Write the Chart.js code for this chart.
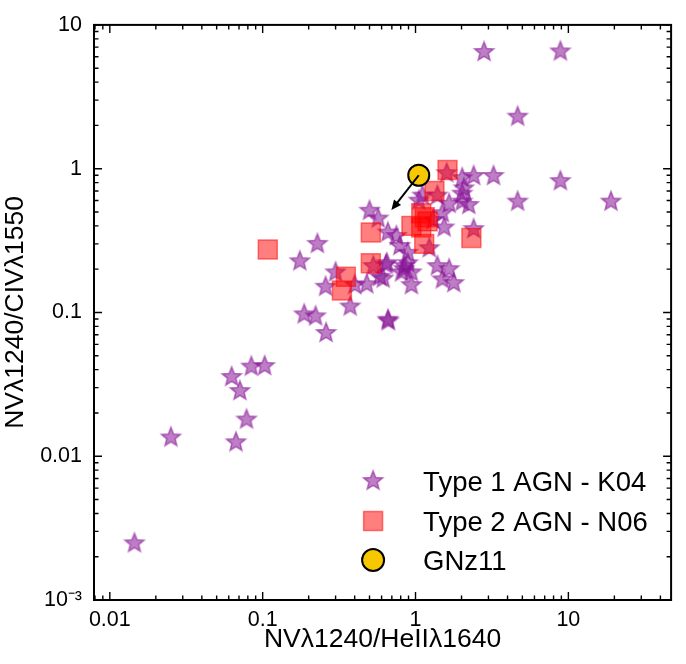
<!DOCTYPE html>
<html><head><meta charset="utf-8">
<script src="https://cdn.jsdelivr.net/npm/chart.js@4.4.0/dist/chart.umd.min.js"></script>
<style>html,body{margin:0;padding:0;background:#fff;}</style>
</head><body>
<canvas id="c" width="686" height="664"></canvas>
<script>
// ---------------- data ----------------
const seriesNames = ['Type 1 AGN - K04', 'Type 2 AGN - N06', 'GNz11'];
const axisTitles = ['NVλ1240/HeIIλ1640', 'NVλ1240/CIVλ1550'];

const xType1 = [2.81, 8.87, 4.66, 8.87, 4.66, 19.0, 1.60, 2.02, 2.40, 3.24,
                2.07, 2.02, 2.23, 2.02, 1.66, 1.39, 1.11, 1.50, 1.54, 2.40,
                0.50, 0.57, 0.66, 0.75, 0.79, 0.89, 1.23, 0.65, 0.85, 0.81,
                0.89, 0.94, 1.39, 1.66, 1.50, 1.78, 0.94, 0.585, 0.48, 0.53,
                0.615, 0.40, 0.30, 0.258, 0.374, 0.228, 0.175, 0.187, 0.222, 0.26,
                0.66, 0.665, 0.0251, 0.0145, 0.0627, 0.071, 0.0843, 0.103, 0.0784, 0.0669,
                1.30, 1.05, 0.64, 0.84];
const yType1 = [6.48, 6.54, 2.30, 0.82, 0.59, 0.59, 0.93, 0.86, 0.89, 0.89,
                0.73, 0.67, 0.56, 0.59, 0.57, 0.65, 0.65, 0.49, 0.39, 0.38,
                0.51, 0.45, 0.36, 0.34, 0.29, 0.26, 0.28, 0.22, 0.21, 0.19,
                0.22, 0.19, 0.21, 0.20, 0.17, 0.16, 0.155, 0.177, 0.157, 0.21,
                0.172, 0.155, 0.19, 0.151, 0.110, 0.30, 0.227, 0.097, 0.094, 0.072,
                0.089, 0.087, 0.0135, 0.00248, 0.0356, 0.0284, 0.042, 0.0424, 0.018, 0.0125,
                0.44, 0.60, 0.215, 0.20];

const xType2 = [1.62, 1.33, 1.09, 1.20, 0.94, 1.09, 1.14, 2.32, 0.51, 0.51, 0.35, 0.33, 0.108, 1.15];
const yType2 = [0.98, 0.70, 0.49, 0.43, 0.40, 0.39, 0.30, 0.33, 0.36, 0.22, 0.177, 0.142, 0.274, 0.46];

const xGNz11 = [1.05];
const yGNz11 = [0.90];
const arrowEnd = [0.695, 0.515];   // upper-limit arrow tip (x, y)

const xRange = [0.00788, 47];
const yRange = [0.001, 10];
const xTickValues = [0.01, 0.1, 1, 10];
const xTickLabels = ['0.01', '0.1', '1', '10'];
const yTickValues = [0.001, 0.01, 0.1, 1, 10];
const yTickLabels = ['10⁻³', '0.01', '0.1', '1', '10'];

// ---------------- styling helpers ----------------
const FONT = "'Liberation Sans', Arial, Helvetica, sans-serif";
function makeStar(R, ratio, fill, stroke, lw) {
  const s = Math.ceil(2 * R + lw * 2 + 4);
  const c = document.createElement('canvas');
  c.width = s; c.height = s;
  const g = c.getContext('2d');
  g.translate(s / 2, s / 2);
  g.beginPath();
  for (let i = 0; i < 10; i++) {
    const r = (i % 2) ? R * ratio : R;
    const a = -Math.PI / 2 + i * Math.PI / 5;
    g.lineTo(r * Math.cos(a), r * Math.sin(a));
  }
  g.closePath();
  g.fillStyle = fill; g.fill();
  g.lineWidth = lw; g.strokeStyle = stroke; g.lineJoin = 'miter'; g.stroke();
  return c;
}
const starImg = makeStar(10, 0.44, 'rgba(135,20,150,0.55)', 'rgba(135,20,150,0.55)', 1.6);
const sqFill = 'rgba(255,0,0,0.5)';
const sqEdge = 'rgba(255,0,0,0.5)';
const sqRadius = 13.4;
const gold = '#f7c800';
const circR = 10.5;

function pts(xs, ys) { return xs.map((x, i) => ({x: x, y: ys[i]})); }

function tickSet(range) {
  const out = [];
  for (let e = -4; e <= 2; e++) {
    for (let m = 1; m <= 9; m++) {
      const v = +(m * Math.pow(10, e)).toPrecision(6);
      if (v >= range[0] && v <= range[1]) out.push({v: v, major: m === 1});
    }
  }
  return out;
}

const decor = {
  id: 'decor',
  afterDatasetsDraw(chart) {
    const {ctx} = chart;
    const xs = chart.scales.x, ys = chart.scales.y;
    // arrow
    const x0 = xs.getPixelForValue(xGNz11[0]), y0 = ys.getPixelForValue(yGNz11[0]);
    const x1 = xs.getPixelForValue(arrowEnd[0]), y1 = ys.getPixelForValue(arrowEnd[1]);
    const ang = Math.atan2(y1 - y0, x1 - x0);
    const hl = 10, hw = 4.5;
    ctx.save();
    ctx.strokeStyle = '#000'; ctx.fillStyle = '#000'; ctx.lineWidth = 2;
    ctx.beginPath(); ctx.moveTo(x0, y0);
    ctx.lineTo(x1 - Math.cos(ang) * hl * 0.8, y1 - Math.sin(ang) * hl * 0.8); ctx.stroke();
    ctx.beginPath();
    ctx.moveTo(x1, y1);
    ctx.lineTo(x1 - Math.cos(ang) * hl - Math.sin(ang) * hw, y1 - Math.sin(ang) * hl + Math.cos(ang) * hw);
    ctx.lineTo(x1 - Math.cos(ang) * hl + Math.sin(ang) * hw, y1 - Math.sin(ang) * hl - Math.cos(ang) * hw);
    ctx.closePath(); ctx.fill();
    ctx.restore();
  },
  afterDraw(chart) {
    const {ctx, chartArea: a} = chart;
    const xs = chart.scales.x, ys = chart.scales.y;
    ctx.save();
    ctx.strokeStyle = '#000';
    ctx.lineWidth = 1.4;
    ctx.beginPath();
    tickSet(xRange).forEach(t => {
      const p = xs.getPixelForValue(t.v);
      const L = t.major ? 8 : 4.5;
      ctx.moveTo(p, a.bottom); ctx.lineTo(p, a.bottom - L);
      ctx.moveTo(p, a.top); ctx.lineTo(p, a.top + L);
    });
    tickSet(yRange).forEach(t => {
      const p = ys.getPixelForValue(t.v);
      const L = t.major ? 8 : 4.5;
      ctx.moveTo(a.left, p); ctx.lineTo(a.left + L, p);
      ctx.moveTo(a.right, p); ctx.lineTo(a.right - L, p);
    });
    ctx.stroke();
    ctx.lineWidth = 2;
    ctx.strokeRect(a.left, a.top, a.right - a.left, a.bottom - a.top);

    // legend
    const mx = a.right - 298, tx = a.right - 248;
    const rows = [a.bottom - 119, a.bottom - 79, a.bottom - 40];
    ctx.drawImage(starImg, mx - starImg.width / 2, rows[0] - starImg.height / 2);
    const half = sqRadius * Math.SQRT1_2;
    ctx.fillStyle = sqFill; ctx.strokeStyle = sqEdge; ctx.lineWidth = 1.5;
    ctx.beginPath(); ctx.rect(mx - half, rows[1] - half, 2 * half, 2 * half); ctx.fill(); ctx.stroke();
    ctx.fillStyle = gold; ctx.strokeStyle = '#000'; ctx.lineWidth = 2;
    ctx.beginPath(); ctx.arc(mx, rows[2], circR + 0.5, 0, Math.PI * 2); ctx.fill(); ctx.stroke();
    ctx.fillStyle = '#000';
    ctx.font = '27.5px ' + FONT;
    ctx.textAlign = 'left'; ctx.textBaseline = 'alphabetic';
    seriesNames.forEach((n, i) => ctx.fillText(n, tx, rows[i] + 9.5));
    ctx.restore();
  }
};

new Chart(document.getElementById('c'), {
  type: 'scatter',
  data: {
    datasets: [
      {label: seriesNames[0], data: pts(xType1, yType1), pointStyle: starImg, pointRadius: 10, pointHoverRadius: 10, order: 3},
      {label: seriesNames[1], data: pts(xType2, yType2), pointStyle: 'rect', pointRadius: sqRadius, pointHoverRadius: sqRadius,
       backgroundColor: sqFill, borderColor: sqEdge, borderWidth: 1.5, pointBorderWidth: 1.5, order: 2},
      {label: seriesNames[2], data: pts(xGNz11, yGNz11), pointStyle: 'circle', pointRadius: circR, pointHoverRadius: circR,
       backgroundColor: gold, borderColor: '#000', borderWidth: 2, pointBorderWidth: 2, order: 1}
    ]
  },
  options: {
    responsive: false,
    animation: false,
    devicePixelRatio: 1,
    layout: {padding: {top: 12, right: 8, left: 0, bottom: 0}},
    plugins: {legend: {display: false}, tooltip: {enabled: false}},
    events: [],
    scales: {
      x: {
        type: 'logarithmic', min: xRange[0], max: xRange[1],
        afterBuildTicks: s => { s.ticks = xTickValues.map(v => ({value: v, major: true})); },
        afterFit: s => { s.height = 64; },
        grid: {display: false, drawTicks: false}, border: {display: false},
        ticks: {autoSkip: false, maxRotation: 0, padding: 7, color: '#000',
                font: {family: FONT, size: 21.5},
                callback: (v) => { const i = xTickValues.indexOf(v); return i >= 0 ? xTickLabels[i] : ''; }},
        title: {display: true, text: axisTitles[0], color: '#000', font: {family: FONT, size: 26.5, lineHeight: 1.2}, padding: {top: 0, bottom: 8}}
      },
      y: {
        type: 'logarithmic', min: yRange[0], max: yRange[1],
        afterBuildTicks: s => { s.ticks = yTickValues.map(v => ({value: v, major: true})); },
        afterFit: s => { s.width = 94; },
        grid: {display: false, drawTicks: false}, border: {display: false},
        ticks: {autoSkip: false, padding: 12, color: '#000',
                font: {family: FONT, size: 21.5},
                callback: (v) => { const i = yTickValues.indexOf(v); return i >= 0 ? yTickLabels[i] : ''; }},
        title: {display: true, text: axisTitles[1], color: '#000', font: {family: FONT, size: 26.5, lineHeight: 1.2}, padding: {top: 0, bottom: 0}}
      }
    }
  },
  plugins: [decor]
});
</script>
</body></html>
